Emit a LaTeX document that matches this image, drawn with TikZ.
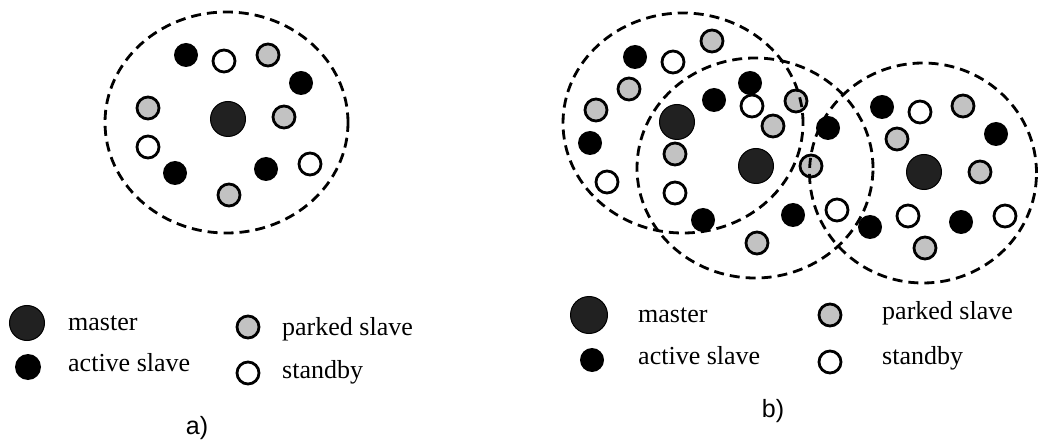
\documentclass[tikz,border=0pt]{standalone}
\usepackage{fontspec}
\setmainfont{Liberation Serif}
\newfontfamily\labelfont{Liberation Sans}
\usetikzlibrary{shapes.geometric}
\definecolor{parkgray}{gray}{0.76}
\definecolor{mastergray}{gray}{0.13}
\tikzset{
  dotbase/.style={circle, inner sep=0pt, outer sep=0pt},
  masterdot/.style={dotbase, fill=mastergray, draw=black, line width=1pt, minimum size=35pt},
  activedot/.style={dotbase, fill=black, minimum size=24pt},
  parkdot/.style={dotbase, fill=parkgray, draw=black, line width=2.8pt, minimum size=22pt},
  standdot/.style={dotbase, fill=white, draw=black, line width=2.8pt, minimum size=22pt},
  cell/.style={ellipse, draw=black, line width=2.8pt, dash pattern=on 10pt off 6pt, inner sep=0pt},
  legtext/.style={anchor=base west, inner sep=0pt, font=\fontsize{26}{30}\selectfont},
  captext/.style={inner sep=0pt, font=\labelfont\fontsize{25}{30}\selectfont}
}
\begin{document}
\begin{tikzpicture}[x=1pt,y=-1pt]
\useasboundingbox (0,0) rectangle (1040,443);
% ---------- a) ----------
\node[masterdot] (am) at (228,119) {};
\foreach \p [count=\i] in {(186,55),(301,83),(175,173),(266,169)}
  \node[activedot] (aa\i) at \p {};
\foreach \p [count=\i] in {(224,61),(148,147),(310,164)}
  \node[standdot] (as\i) at \p {};
\foreach \p [count=\i] in {(268,55),(148,108),(284,117),(229,195)}
  \node[parkdot] (ap\i) at \p {};
\node[cell, minimum width=243pt, minimum height=221pt] (acell) at (226.5,122.5) {};
% legend a
\node[masterdot] (lam) at (27,323) {};
\node[legtext] (lamt) at (68,330) {master};
\node[activedot, minimum size=26pt] (laa) at (28,367) {};
\node[legtext] (laat) at (68,371) {active slave};
\node[parkdot] (lap) at (248,327) {};
\node[legtext] (lapt) at (282,335) {parked slave};
\node[standdot] (las) at (248,373) {};
\node[legtext] (last) at (282,378) {standby};
\node[captext] (capa) at (197,428) {a)};
% ---------- b) ----------
\foreach \p [count=\i] in {(677,122),(756,166),(924,172)}
  \node[masterdot] (bm\i) at \p {};
\foreach \p [count=\i] in {(635,57),(750,83),(714,100),(590,143),(703,220),(793,215),(828,128),(870,227),(882,107),(996,134),(961,222)}
  \node[activedot] (ba\i) at \p {};
\foreach \p [count=\i] in {(673,62),(752,106),(607,182),(675,193),(837,210),(920,112),(908,216),(1005,216)}
  \node[standdot] (bs\i) at \p {};
\foreach \p [count=\i] in {(712,41),(629,89),(796,101),(596,110),(773,126),(675,154),(811,166),(757,243),(963,106),(897,139),(980,172),(925,248)}
  \node[parkdot] (bp\i) at \p {};
\node[cell, minimum width=240pt, minimum height=220pt] (bcell1) at (683,123) {};
\node[cell, minimum width=236pt, minimum height=220pt] (bcell2) at (755,168) {};
\node[cell, minimum width=227pt, minimum height=220pt] (bcell3) at (923,173) {};
% legend b
\node[masterdot, minimum size=37pt] (lbm) at (589,315) {};
\node[legtext] (lbmt) at (638,322) {master};
\node[activedot] (lba) at (592,360) {};
\node[legtext] (lbat) at (638,364) {active slave};
\node[parkdot] (lbp) at (830,315) {};
\node[legtext] (lbpt) at (882,319) {parked slave};
\node[standdot] (lbs) at (830,362) {};
\node[legtext] (lbst) at (882,364) {standby};
\node[captext] (capb) at (773,411) {b)};
\end{tikzpicture}
\end{document}
